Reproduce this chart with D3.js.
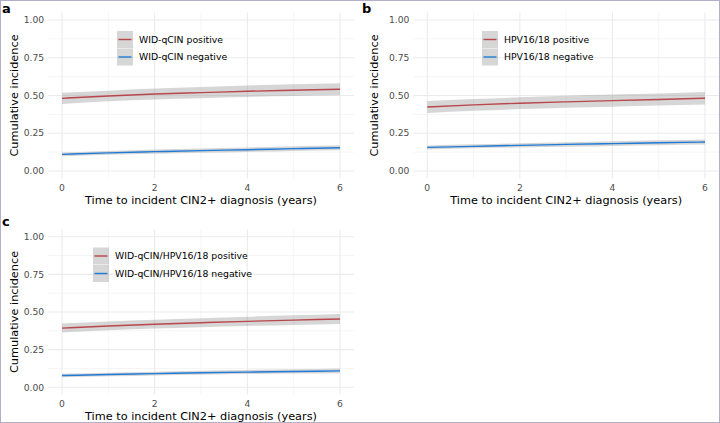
<!DOCTYPE html>
<html><head><meta charset="utf-8">
<script src="https://cdn.jsdelivr.net/npm/d3@7"></script>
<style>
html,body{margin:0;padding:0;background:#fff;}
svg{display:block;font-family:"DejaVu Sans",sans-serif;}
</style></head>
<body>
<svg id="chart" width="720" height="423"></svg>
<script>
const years = [0, 1, 2, 3, 4, 5, 6];
const xTicks = [0, 2, 4, 6];
const yTicks = [0, 0.25, 0.5, 0.75, 1];
const yTickLabels = ["0.00", "0.25", "0.50", "0.75", "1.00"];
const panelLetters = ["a", "b", "c"];
const xTitle = "Time to incident CIN2+ diagnosis (years)";
const yTitle = "Cumulative incidence";

const legendA = ["WID-qCIN positive", "WID-qCIN negative"];
const legendB = ["HPV16/18 positive", "HPV16/18 negative"];
const legendC = ["WID-qCIN/HPV16/18 positive", "WID-qCIN/HPV16/18 negative"];

const aPos = [0.481, 0.497, 0.510, 0.519, 0.528, 0.535, 0.541];
const aPosLo = [0.444, 0.462, 0.474, 0.482, 0.490, 0.496, 0.501];
const aPosHi = [0.519, 0.532, 0.546, 0.556, 0.566, 0.574, 0.581];
const aNeg = [0.110, 0.120, 0.128, 0.135, 0.141, 0.148, 0.154];
const aNegLo = [0.098, 0.107, 0.115, 0.121, 0.126, 0.132, 0.137];
const aNegHi = [0.123, 0.133, 0.142, 0.149, 0.156, 0.164, 0.171];

const bPos = [0.424, 0.438, 0.449, 0.458, 0.466, 0.474, 0.482];
const bPosLo = [0.384, 0.399, 0.410, 0.419, 0.426, 0.433, 0.440];
const bPosHi = [0.463, 0.477, 0.488, 0.498, 0.506, 0.514, 0.523];
const bNeg = [0.156, 0.163, 0.170, 0.176, 0.181, 0.187, 0.192];
const bNegLo = [0.143, 0.150, 0.156, 0.161, 0.166, 0.171, 0.175];
const bNegHi = [0.169, 0.177, 0.184, 0.191, 0.197, 0.203, 0.209];

const cPos = [0.393, 0.407, 0.419, 0.429, 0.438, 0.446, 0.454];
const cPosLo = [0.364, 0.378, 0.390, 0.399, 0.407, 0.414, 0.421];
const cPosHi = [0.423, 0.437, 0.449, 0.459, 0.469, 0.478, 0.487];
const cNeg = [0.078, 0.085, 0.091, 0.097, 0.101, 0.105, 0.109];
const cNegLo = [0.067, 0.073, 0.079, 0.084, 0.088, 0.091, 0.094];
const cNegHi = [0.090, 0.097, 0.104, 0.110, 0.115, 0.120, 0.125];

const panels = [
  {letter: panelLetters[0], legend: legendA, pos: aPos, posLo: aPosLo, posHi: aPosHi, neg: aNeg, negLo: aNegLo, negHi: aNegHi,
   x0: 62, x6: 340, y0: 171, y1: 20, lx: 117, ly: 31, ox: 0, oy: 0},
  {letter: panelLetters[1], legend: legendB, pos: bPos, posLo: bPosLo, posHi: bPosHi, neg: bNeg, negLo: bNegLo, negHi: bNegHi,
   x0: 427.3, x6: 705, y0: 171, y1: 20, lx: 482, ly: 31, ox: 360, oy: 0},
  {letter: panelLetters[2], legend: legendC, pos: cPos, posLo: cPosLo, posHi: cPosHi, neg: cNeg, negLo: cNegLo, negHi: cNegHi,
   x0: 62, x6: 340, y0: 387.3, y1: 236.7, lx: 93, ly: 247.5, ox: 0, oy: 213}
];

const RED = "#b9464a", BLUE = "#1f7bd6";
const svg = d3.select("#chart");

svg.append("rect").attr("x", 0.5).attr("y", 0.5).attr("width", 719).attr("height", 422)
  .attr("fill", "none").attr("stroke", "#b3aecb").attr("stroke-width", 1);

panels.forEach(p => {
  const g = svg.append("g");
  const x = d3.scaleLinear().domain([0, 6]).range([p.x0, p.x6]);
  const y = d3.scaleLinear().domain([0, 1]).range([p.y0, p.y1]);
  const xl = x(-0.3), xr = x(6.3), yt = y(1.05), yb = y(-0.05);

  [1, 3, 5].forEach(v => g.append("line").attr("x1", x(v)).attr("x2", x(v)).attr("y1", yt).attr("y2", yb)
    .attr("stroke", "#f2f2f2").attr("stroke-width", 0.8));
  [0.125, 0.375, 0.625, 0.875].forEach(v => g.append("line").attr("x1", xl).attr("x2", xr).attr("y1", y(v)).attr("y2", y(v))
    .attr("stroke", "#f2f2f2").attr("stroke-width", 0.8));
  xTicks.forEach(v => g.append("line").attr("x1", x(v)).attr("x2", x(v)).attr("y1", yt).attr("y2", yb)
    .attr("stroke", "#ebebeb").attr("stroke-width", 1.1));
  yTicks.forEach(v => g.append("line").attr("x1", xl).attr("x2", xr).attr("y1", y(v)).attr("y2", y(v))
    .attr("stroke", "#ebebeb").attr("stroke-width", 1.1));

  xTicks.forEach(v => g.append("text").attr("x", x(v)).attr("y", yb + 12).attr("text-anchor", "middle")
    .attr("font-size", 9.2).attr("fill", "#4d4d4d").text(v));
  yTicks.forEach((v, i) => g.append("text").attr("x", xl - 4).attr("y", y(v)).attr("dy", "0.35em")
    .attr("text-anchor", "end").attr("font-size", 9.2).attr("fill", "#4d4d4d").text(yTickLabels[i]));

  g.append("text").attr("x", (xl + xr) / 2).attr("y", yb + 25.5).attr("text-anchor", "middle")
    .attr("font-size", 11.3).attr("fill", "#000").text(xTitle);
  g.append("text").attr("transform", `translate(${p.ox + 18},${(yt + yb) / 2}) rotate(-90)`)
    .attr("text-anchor", "middle").attr("font-size", 11.3).attr("fill", "#000").text(yTitle);

  g.append("text").attr("x", p.ox + 2).attr("y", p.oy + 13).attr("font-size", 13).attr("font-weight", "bold")
    .attr("fill", "#000").text(p.letter);

  const area = d3.area().x((d, i) => x(years[i])).curve(d3.curveMonotoneX);
  const line = d3.line().x((d, i) => x(years[i])).y(d => y(d)).curve(d3.curveMonotoneX);

  [[p.posLo, p.posHi], [p.negLo, p.negHi]].forEach(([lo, hi]) => {
    g.append("path").datum(lo)
      .attr("d", area.y0((d) => y(d)).y1((d, i) => y(hi[i])))
      .attr("fill", "#999").attr("fill-opacity", 0.4);
  });
  [[p.pos, RED], [p.neg, BLUE]].forEach(([vals, col]) => {
    g.append("path").datum(vals).attr("d", line).attr("fill", "none")
      .attr("stroke", col).attr("stroke-width", 1.4);
  });

  const cols = [RED, BLUE];
  p.legend.forEach((lab, i) => {
    const ky = p.ly + i * 17.5;
    g.append("rect").attr("x", p.lx).attr("y", ky).attr("width", 16).attr("height", 17)
      .attr("fill", "#999").attr("fill-opacity", 0.4);
    g.append("line").attr("x1", p.lx + 1.5).attr("x2", p.lx + 14.5).attr("y1", ky + 8.5).attr("y2", ky + 8.5)
      .attr("stroke", cols[i]).attr("stroke-width", 1.4);
    g.append("text").attr("x", p.lx + 22).attr("y", ky + 8.5).attr("dy", "0.35em")
      .attr("font-size", 9.3).attr("fill", "#000").text(lab);
  });
});
</script>
</body></html>
